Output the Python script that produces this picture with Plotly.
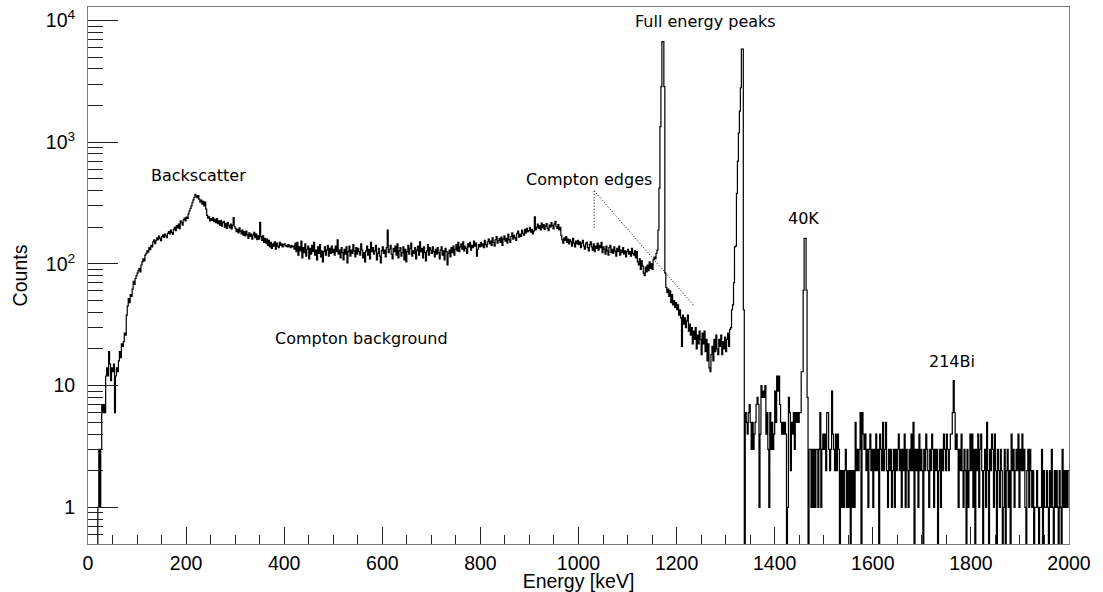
import math
import numpy as np
import plotly.graph_objects as go

# Gamma-ray spectrum (60Co source + room background), 2 keV bins from 0 to 2000 keV
bin_width_kev = 2

counts_0000_0100 = [0, 0, 0, 0, 0, 0, 0, 0, 0, 0,
                    1, 3, 1, 3, 7, 6, 7, 6, 12, 14,
                    12, 19, 15, 11, 14, 13, 15, 6, 12, 14,
                    13, 16, 19, 17, 22, 21, 23, 27, 26, 38,
                    45, 52, 48, 56, 54, 62, 72, 68, 76, 80]
counts_0100_0200 = [84, 88, 92, 86, 98, 104, 110, 106, 118, 122,
                    128, 125, 136, 131, 142, 138, 152, 158, 147, 155,
                    164, 158, 169, 162, 155, 168, 173, 165, 176, 170,
                    164, 178, 184, 176, 190, 181, 175, 192, 200, 188,
                    206, 198, 212, 195, 226, 218, 208, 230, 238, 226]
counts_0200_0300 = [242, 236, 258, 272, 286, 300, 318, 336, 352, 372,
                    360, 348, 364, 340, 322, 334, 310, 326, 300, 322,
                    282, 250, 238, 244, 226, 236, 228, 240, 222, 232,
                    218, 236, 214, 226, 208, 228, 204, 218, 224, 200,
                    214, 196, 220, 206, 198, 212, 194, 208, 240, 202]
counts_0300_0400 = [196, 184, 192, 180, 198, 186, 176, 190, 172, 184,
                    170, 186, 174, 162, 180, 168, 176, 160, 172, 182,
                    164, 176, 158, 170, 160, 220, 168, 156, 170, 150,
                    162, 148, 160, 142, 156, 138, 150, 134, 146, 140,
                    152, 132, 148, 140, 136, 150, 142, 146, 138, 144]
counts_0400_0500 = [146, 140, 142, 138, 144, 140, 136, 142, 138, 140,
                    132, 148, 126, 150, 118, 138, 128, 154, 112, 136,
                    124, 146, 116, 132, 140, 110, 134, 120, 142, 126,
                    150, 118, 130, 108, 138, 122, 144, 114, 128, 104,
                    126, 138, 118, 130, 142, 116, 134, 122, 140, 124]
counts_0500_0600 = [132, 118, 140, 126, 158, 120, 130, 112, 136, 124,
                    108, 132, 120, 138, 102, 126, 140, 116, 130, 122,
                    144, 128, 114, 136, 120, 134, 126, 118, 146, 130,
                    112, 124, 104, 128, 140, 118, 132, 110, 150, 126,
                    136, 120, 128, 142, 108, 122, 134, 116, 102, 128]
counts_0600_0700 = [138, 122, 130, 114, 136, 190, 124, 132, 142, 120,
                    110, 134, 126, 140, 118, 146, 112, 128, 136, 116,
                    124, 138, 108, 132, 104, 126, 142, 120, 134, 148,
                    116, 128, 122, 136, 110, 130, 140, 118, 152, 126,
                    134, 112, 138, 124, 106, 128, 144, 118, 136, 130]
counts_0700_0800 = [122, 138, 126, 114, 132, 120, 136, 124, 110, 130,
                    138, 118, 128, 108, 134, 126, 98, 122, 130, 114,
                    136, 124, 140, 118, 132, 144, 128, 150, 126, 138,
                    146, 132, 152, 128, 140, 134, 122, 146, 138, 150,
                    130, 142, 136, 154, 140, 148, 116, 132, 144, 138]
counts_0800_0900 = [150, 140, 146, 136, 156, 144, 138, 152, 160, 146,
                    154, 142, 164, 150, 140, 158, 168, 148, 156, 162,
                    150, 166, 142, 160, 170, 154, 162, 148, 176, 158,
                    150, 168, 180, 160, 172, 164, 156, 178, 186, 166,
                    176, 168, 190, 178, 172, 192, 180, 196, 184, 188]
counts_0900_1000 = [200, 182, 192, 176, 186, 244, 190, 200, 212, 196,
                    206, 190, 216, 198, 210, 192, 204, 214, 196, 188,
                    208, 200, 218, 206, 194, 212, 224, 202, 196, 210,
                    190, 200, 172, 158, 148, 164, 156, 168, 150, 160,
                    146, 158, 152, 140, 162, 148, 138, 154, 146, 156]
counts_1000_1100 = [144, 152, 136, 148, 156, 140, 132, 146, 150, 136,
                    128, 144, 152, 138, 130, 146, 126, 140, 134, 148,
                    130, 142, 136, 150, 124, 138, 132, 120, 140, 128,
                    118, 136, 142, 124, 132, 122, 138, 128, 116, 134,
                    126, 140, 118, 130, 124, 136, 120, 128, 114, 126]
counts_1100_1200 = [132, 120, 126, 116, 134, 122, 118, 128, 112, 126,
                    104, 98, 110, 90, 106, 96, 84, 80, 94, 86,
                    98, 88, 104, 92, 100, 90, 108, 114, 110, 122,
                    130, 190, 420, 1340, 2860, 6700, 6700, 2860, 84, 64,
                    58, 62, 54, 60, 48, 56, 46, 50, 44, 48]
counts_1200_1300 = [42, 46, 38, 42, 36, 21, 38, 32, 36, 30,
                    34, 38, 28, 32, 26, 30, 22, 28, 24, 30,
                    20, 26, 22, 28, 24, 18, 27, 22, 28, 19,
                    24, 16, 22, 14, 13, 18, 21, 16, 24, 19,
                    26, 20, 18, 24, 21, 26, 18, 23, 20, 25]
counts_1300_1400 = [19, 24, 27, 21, 29, 30, 42, 46, 70, 138,
                    140, 380, 700, 1190, 1800, 2800, 5830, 5830, 42, 0,
                    6, 5, 4, 6, 7, 5, 3, 5, 3, 4,
                    5, 7, 8, 7, 1, 4, 10, 8, 9, 8,
                    10, 4, 6, 3, 1, 6, 3, 5, 3, 4]
counts_1400_1500 = [9, 5, 12, 9, 12, 7, 5, 4, 5, 4,
                    5, 4, 0, 1, 8, 6, 2, 5, 4, 6,
                    3, 6, 5, 6, 5, 6, 6, 13, 13, 61,
                    162, 162, 61, 8, 0, 3, 3, 1, 3, 1,
                    3, 1, 3, 3, 1, 3, 6, 1, 3, 4]
counts_1500_1600 = [3, 4, 2, 6, 6, 3, 2, 3, 9, 4,
                    3, 2, 4, 2, 4, 3, 0, 2, 1, 2,
                    1, 2, 3, 1, 2, 1, 2, 0, 2, 1,
                    2, 1, 5, 2, 3, 2, 3, 6, 0, 6,
                    4, 3, 4, 2, 3, 1, 3, 4, 2, 3]
counts_1600_1700 = [1, 3, 2, 4, 2, 3, 0, 4, 3, 2,
                    5, 2, 3, 5, 2, 1, 3, 2, 3, 1,
                    2, 3, 1, 3, 2, 3, 4, 2, 3, 1,
                    3, 2, 4, 1, 3, 2, 1, 3, 2, 4,
                    2, 5, 0, 3, 2, 3, 1, 4, 2, 3]
counts_1700_1800 = [2, 0, 3, 2, 4, 3, 2, 1, 3, 2,
                    4, 3, 1, 3, 2, 3, 0, 2, 3, 1,
                    3, 2, 4, 3, 2, 4, 3, 2, 3, 4,
                    4, 6, 11, 6, 3, 4, 3, 1, 3, 2,
                    4, 2, 1, 3, 2, 0, 3, 1, 2, 4]
counts_1800_1900 = [2, 4, 1, 3, 0, 3, 2, 4, 1, 3,
                    4, 2, 0, 2, 3, 1, 5, 2, 0, 3,
                    2, 4, 3, 1, 4, 2, 0, 3, 2, 1,
                    3, 2, 0, 1, 3, 0, 2, 3, 1, 2,
                    0, 4, 2, 3, 1, 2, 3, 2, 4, 1]
counts_1900_2000 = [3, 2, 4, 2, 3, 1, 0, 2, 3, 1,
                    3, 2, 1, 2, 0, 1, 1, 2, 1, 0,
                    1, 1, 3, 0, 2, 1, 1, 2, 1, 0,
                    2, 1, 3, 1, 0, 2, 1, 2, 1, 0,
                    2, 1, 0, 3, 1, 2, 1, 2, 1, 2]

# Peak / region labels (text, energy in keV, counts level of the label centre)
note_text = ["Backscatter", "Compton background", "Compton edges",
             "Full energy peaks", "40K", "214Bi"]
note_energy = [225, 557, 1021, 1258, 1459, 1762]
note_counts = [532, 24.2, 491, 9770, 238, 15.7]

# Dotted guides from the "Compton edges" label to the two edges
guide_energy = [1032, 1032, None, 1032, 1234]
guide_counts = [399, 190, None, 399, 46]

# Axis ticks
x_range = [0, 2000]
y_range = [0.5, 12900]
y_tick_vals = [1, 10, 100, 1000, 10000]
y_tick_text = ["1", "10", "10<sup>2</sup>", "10<sup>3</sup>", "10<sup>4</sup>"]

counts = np.array(
    counts_0000_0100 + counts_0100_0200 + counts_0200_0300 + counts_0300_0400
    + counts_0400_0500 + counts_0500_0600 + counts_0600_0700 + counts_0700_0800
    + counts_0800_0900 + counts_0900_1000 + counts_1000_1100 + counts_1100_1200
    + counts_1200_1300 + counts_1300_1400 + counts_1400_1500 + counts_1500_1600
    + counts_1600_1700 + counts_1700_1800 + counts_1800_1900 + counts_1900_2000,
    dtype=float,
)

# Histogram outline: left edges plus the closing right edge
edges = np.arange(len(counts) + 1) * bin_width_kev
step_y = np.append(counts, counts[-1])
# empty bins are drawn down through the bottom of the frame
step_y = np.where(step_y > 0, step_y, 0.05)

minor_y = [m * 10.0 ** e for e in range(-1, 5) for m in range(2, 10)]

tick_font = dict(family="Liberation Sans, Arial, sans-serif", size=19.5, color="black")
note_font = dict(family="DejaVu Sans, sans-serif", size=16, color="black")
frame_color = "#7a7a7a"
tick_color = "#222222"

fig = go.Figure()

fig.add_trace(go.Scatter(
    x=edges, y=step_y, mode="lines",
    line=dict(shape="hv", color="black", width=1.2, simplify=False),
    hoverinfo="skip", showlegend=False,
))

fig.add_trace(go.Scatter(
    x=guide_energy, y=guide_counts, mode="lines",
    line=dict(color="black", width=1, dash="1px,2px"),
    hoverinfo="skip", showlegend=False,
))

for txt, e, c in zip(note_text, note_energy, note_counts):
    fig.add_annotation(
        x=e, y=math.log10(c), xref="x", yref="y", text=txt,
        showarrow=False, font=note_font, xanchor="center", yanchor="middle",
    )

fig.update_xaxes(
    range=x_range, showgrid=False, zeroline=False, automargin=False,
    showline=True, linecolor=frame_color, linewidth=1, mirror=True,
    ticks="inside", ticklen=17, tickwidth=1, tickcolor=tick_color,
    tick0=0, dtick=200, tickfont=tick_font, ticklabelstandoff=2,
    minor=dict(ticks="inside", ticklen=9, tickwidth=1, tickcolor=tick_color,
               tick0=0, dtick=50, showgrid=False),
    title=dict(text="Energy [keV]", font=tick_font, standoff=3),
)

fig.update_yaxes(
    type="log", range=[math.log10(y_range[0]), math.log10(y_range[1])],
    showgrid=False, zeroline=False, automargin=False,
    showline=True, linecolor=frame_color, linewidth=1, mirror=True,
    ticks="inside", ticklen=30, tickwidth=1, tickcolor=tick_color,
    tickmode="array", tickvals=y_tick_vals, ticktext=y_tick_text,
    tickfont=tick_font, ticklabelstandoff=8,
    minor=dict(ticks="inside", ticklen=15, tickwidth=1, tickcolor=tick_color,
               tickmode="array", tickvals=minor_y, showgrid=False),
    title=dict(text="Counts", font=tick_font, standoff=12),
)

fig.update_layout(
    width=1103, height=592,
    margin=dict(l=88, r=34, t=7, b=48),
    paper_bgcolor="white", plot_bgcolor="white",
    showlegend=False,
)

fig.write_html("out.html")
